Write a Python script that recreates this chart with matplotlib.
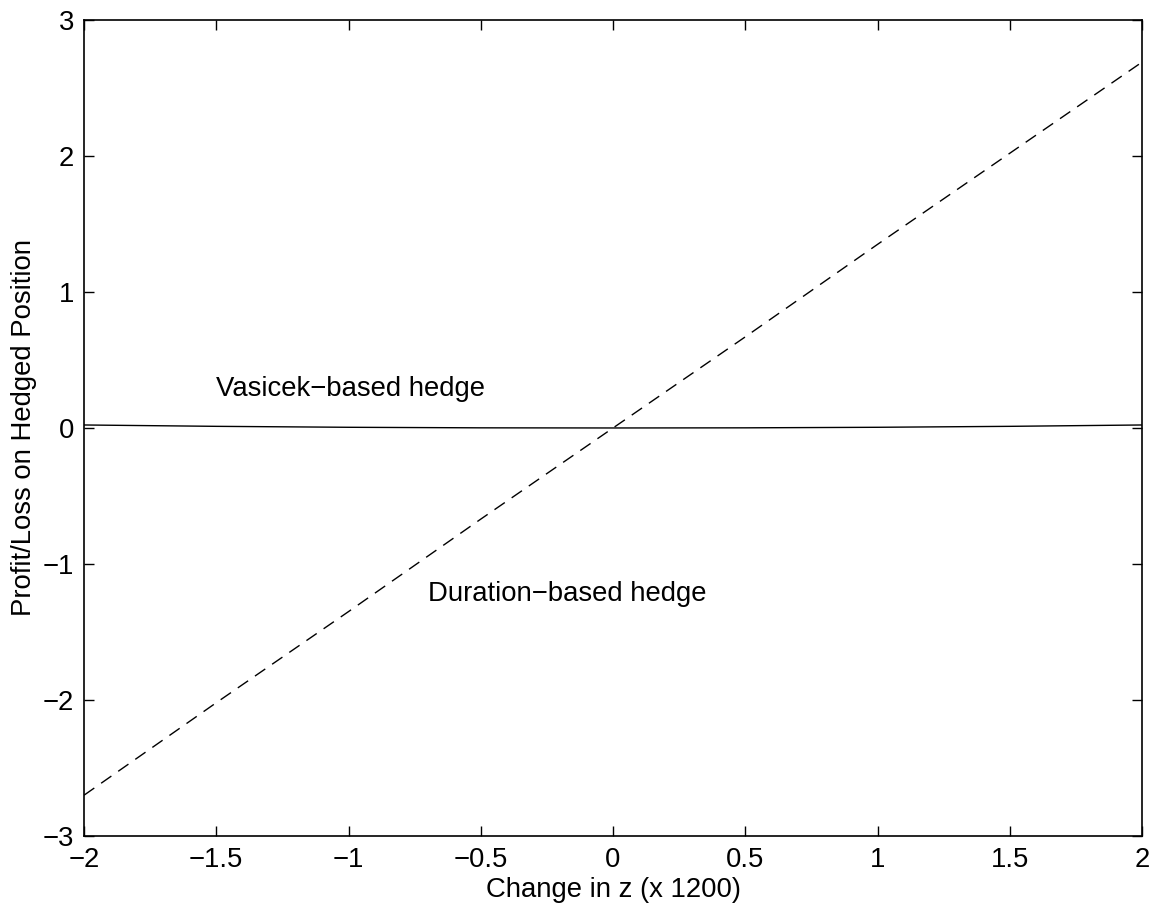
import matplotlib
matplotlib.use("Agg")
import matplotlib.pyplot as plt
import numpy as np

# change in z (x 1200)
z = [-2.0, -1.5, -1.0, -0.5, 0.0, 0.5, 1.0, 1.5, 2.0]
# profit/loss on hedged position
vasicek = [0.022, 0.012, 0.005, 0.001, 0.0, 0.001, 0.005, 0.012, 0.022]
duration = [-2.70, -2.02, -1.35, -0.67, 0.0, 0.67, 1.35, 2.02, 2.69]

xticks = [-2, -1.5, -1, -0.5, 0, 0.5, 1, 1.5, 2]
yticks = [-3, -2, -1, 0, 1, 2, 3]

plt.rcParams['font.family'] = ['Liberation Sans', 'DejaVu Sans']
plt.rcParams['font.size'] = 19.8

fig = plt.figure(figsize=(11.53, 9.07), dpi=100)
ax = fig.add_axes([0.0729, 0.0783, 0.9176, 0.8997])

ax.plot(z, vasicek, color='black', linewidth=1)
ax.plot(z, duration, color='black', linewidth=1, linestyle=(0, (9, 6)))

ax.text(-1.5, 0.29, 'Vasicek\u2212based hedge', ha='left', va='center')
ax.text(-0.7, -1.22, 'Duration\u2212based hedge', ha='left', va='center')

ax.set_xlim(-2, 2)
ax.set_ylim(-3, 3)
ax.set_xticks(xticks)
ax.set_yticks(yticks)
ax.set_xticklabels([str(t).replace('-', '\u2212') for t in xticks])
ax.set_yticklabels([str(t).replace('-', '\u2212') for t in yticks])
ax.tick_params(direction='in', length=7.2, width=1, top=True, right=True)
ax.tick_params(axis='x', pad=8)
ax.tick_params(axis='y', pad=7)
for s in ax.spines.values():
    s.set_linewidth(1.2)

ax.set_xlabel('Change in z (x 1200)', labelpad=3)
ax.set_ylabel('Profit/Loss on Hedged Position', labelpad=4)

fig.savefig('out.png', dpi=100)
